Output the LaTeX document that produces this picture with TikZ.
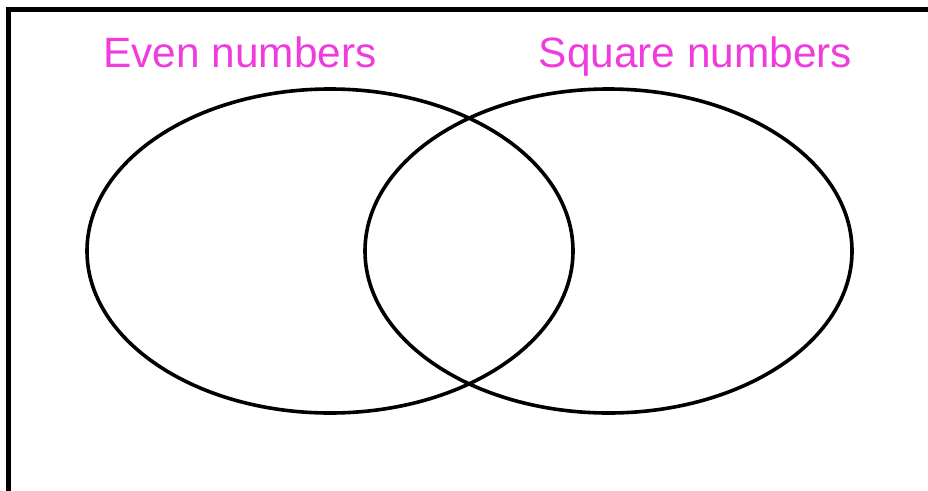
\documentclass[tikz,border=0pt]{standalone}
\usepackage{fontspec}
\setmainfont{Liberation Sans}
\definecolor{labelpink}{RGB}{240,60,220}
\begin{document}
\begin{tikzpicture}[x=1pt,y=-1pt,
  setshape/.style={draw=black,line width=3.6pt},
  setlabel/.style={text=labelpink,font=\fontsize{42.4}{50}\selectfont,inner sep=0pt,anchor=base}]
\useasboundingbox (0,0) rectangle (928,490);
\draw[line width=4.2pt] (8.5,520) -- (8.5,9.5) -- (960,9.5);
\draw[setshape] (330,251) ellipse [x radius=243, y radius=162];
\draw[setshape] (608.5,251) ellipse [x radius=243.5, y radius=162];
\node[setlabel] (even) at (240,67) {Even numbers};
\node[setlabel] (square) at (695.5,67) {Square numbers};
\end{tikzpicture}
\end{document}
